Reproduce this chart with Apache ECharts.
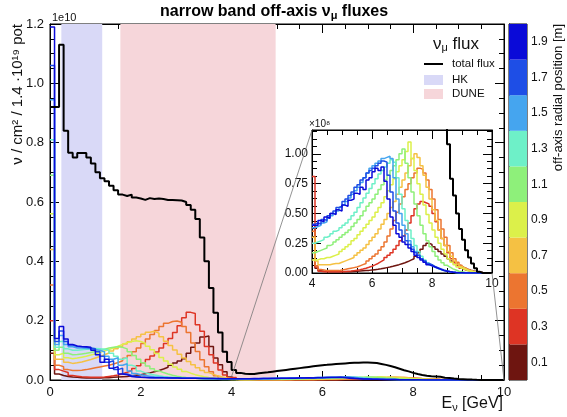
<!DOCTYPE html>
<html>
<head>
<meta charset="utf-8">
<title>narrow band off-axis numu fluxes</title>
<script src="https://cdn.jsdelivr.net/npm/echarts@6/dist/echarts.min.js"></script>
<style>
    html, body { margin: 0; padding: 0; background: #fff; }
    #main { width: 567px; height: 417px; }
</style>
</head>
<body>
<div id="main"></div>
<script>
// histograms: 100 bins of 0.1 GeV from 0 to 10 GeV, values in units of 1e8
var binWidth = 0.1;

var totalFlux = [
    92, 92, 113, 84, 76.6, 75, 76.5, 76.5, 75, 73,
    70, 68, 67, 65.5, 64, 62.5, 62, 62.5, 61.5, 61.2,
    60.7, 61.3, 61, 61.2, 61, 60.7, 60.7, 60.6, 60.5, 60,
    59, 57.4, 54.3, 48, 40, 31, 22.7, 16, 9.5, 6.1,
    3.4, 2.4, 2.1, 2.0, 2.05, 2.3, 2.45, 2.6, 2.8, 3.0,
    3.2, 3.4, 3.6, 3.8, 4.0, 4.2, 4.4, 4.6, 4.8, 5.0,
    5.1, 5.25, 5.4, 5.5, 5.6, 5.7, 5.8, 5.85, 5.9, 5.9,
    5.85, 5.7, 5.4, 5.1, 4.7, 4.3, 3.8, 3.3, 2.9, 2.4,
    2.0, 1.7, 1.45, 1.3, 1.22, 1.08, 0.79, 0.65, 0.5, 0.37,
    0.28, 0.19, 0.13, 0.08, 0.04, 0.01, 0, 0, 0, 0
];

var flux01 = [
    9, 2, 1.5, 1.2, 1, 0.9, 0.8, 0.7, 0.7, 0.7,
    0.7, 0.75, 0.8, 0.9, 1.0, 1.1, 1.2, 1.4, 1.6, 1.8,
    2.1, 2.4, 2.8, 3.2, 3.7, 4.3, 5, 5.7, 6.4, 7.2,
    9, 11, 12.5, 14.5, 14.8, 11.3, 7.4, 5.1, 2.8, 1.0,
    0.40, 0.04, 0.02, 0.015, 0.012, 0.01, 0.01, 0.01, 0.01, 0.01,
    0.01, 0.01, 0.01, 0.012, 0.014, 0.016, 0.018, 0.02, 0.022, 0.025,
    0.028, 0.031, 0.035, 0.04, 0.045, 0.05, 0.056, 0.063, 0.07, 0.078,
    0.086, 0.096, 0.108, 0.12, 0.14, 0.17, 0.20, 0.23, 0.25, 0.24,
    0.22, 0.20, 0.18, 0.16, 0.14, 0.12, 0.10, 0.085, 0.07, 0.055,
    0.042, 0.032, 0.024, 0.017, 0.012, 0.008, 0.005, 0.003, 0.001, 0
];

var flux03 = [
    20, 3.5, 3, 2.5, 1.5, 1.3, 1.1, 1.0, 0.9, 0.9,
    0.9, 1.0, 1.2, 1.4, 1.7, 2.1, 2.6, 3.2, 3.9, 4.8,
    5.8, 6.9, 8.1, 9.4, 10.8, 12.3, 14, 16, 18.3, 21,
    22.8, 22.4, 18.6, 16.4, 11.3, 8.5, 5.7, 3.4, 1.7, 0.8,
    0.81, 0.05, 0.015, 0.01, 0.01, 0.01, 0.01, 0.01, 0.01, 0.01,
    0.012, 0.014, 0.016, 0.02, 0.024, 0.028, 0.033, 0.04, 0.048, 0.057,
    0.068, 0.08, 0.095, 0.11, 0.13, 0.15, 0.17, 0.20, 0.23, 0.27,
    0.31, 0.36, 0.42, 0.48, 0.54, 0.58, 0.60, 0.59, 0.58, 0.56,
    0.50, 0.43, 0.36, 0.29, 0.23, 0.17, 0.12, 0.085, 0.06, 0.04,
    0.028, 0.02, 0.014, 0.009, 0.006, 0.004, 0.002, 0.001, 0, 0
];

var flux05 = [
    32, 5, 4.5, 3.5, 3.2, 3.2, 3.3, 3.5, 3.8, 4.1,
    4.4, 4.7, 5, 5.4, 5.9, 6.5, 7.3, 8.3, 9.5, 10.8,
    12.3, 13.8, 15.3, 16.7, 18, 19.1, 19.7, 19.9, 19.5, 18,
    16, 12.5, 9.6, 6.8, 4.5, 2.8, 1.4, 0.6, 0.3, 0.2,
    0.35, 0.06, 0.03, 0.025, 0.02, 0.02, 0.02, 0.02, 0.02, 0.025,
    0.03, 0.035, 0.04, 0.045, 0.05, 0.06, 0.07, 0.08, 0.10, 0.12,
    0.14, 0.16, 0.19, 0.22, 0.26, 0.31, 0.37, 0.44, 0.51, 0.58,
    0.64, 0.70, 0.75, 0.80, 0.84, 0.88, 0.87, 0.84, 0.78, 0.70,
    0.62, 0.53, 0.45, 0.37, 0.30, 0.23, 0.17, 0.12, 0.09, 0.065,
    0.045, 0.03, 0.02, 0.013, 0.008, 0.005, 0.003, 0.001, 0, 0
];

var flux07 = [
    44, 7, 7, 6, 5.6, 5.8, 6.1, 6.5, 6.9, 7.4,
    7.9, 8.5, 9.1, 9.8, 10.5, 11.3, 12.1, 12.9, 13.8, 14.6,
    15.4, 16.1, 16.4, 15.8, 14.6, 13.1, 11.6, 10.1, 8.7, 7.4,
    6.2, 5.1, 4.1, 3.2, 2.5, 1.9, 1.4, 1.0, 0.7, 0.45,
    0.30, 0.10, 0.07, 0.07, 0.07, 0.07, 0.075, 0.08, 0.08, 0.09,
    0.10, 0.11, 0.12, 0.13, 0.15, 0.17, 0.19, 0.21, 0.24, 0.27,
    0.30, 0.33, 0.37, 0.41, 0.45, 0.50, 0.55, 0.60, 0.66, 0.72,
    0.78, 0.84, 0.90, 0.96, 1.00, 0.97, 0.90, 0.82, 0.72, 0.62,
    0.53, 0.44, 0.36, 0.29, 0.23, 0.18, 0.14, 0.10, 0.075, 0.055,
    0.04, 0.028, 0.02, 0.013, 0.008, 0.005, 0.003, 0.001, 0, 0
];

var flux09 = [
    56, 8.5, 9, 7.5, 7.2, 7.4, 7.7, 8, 8.4, 8.8,
    9.3, 9.8, 10.3, 10.8, 11.4, 12, 12.6, 13, 13.2, 13,
    12.4, 11.4, 10.2, 8.9, 7.6, 6.4, 5.3, 4.4, 3.6, 2.9,
    2.3, 1.8, 1.4, 1.1, 0.85, 0.65, 0.5, 0.38, 0.28, 0.2,
    0.11, 0.11, 0.12, 0.12, 0.13, 0.13, 0.14, 0.15, 0.16, 0.18,
    0.20, 0.22, 0.24, 0.27, 0.29, 0.32, 0.35, 0.38, 0.41, 0.44,
    0.47, 0.51, 0.55, 0.59, 0.64, 0.69, 0.74, 0.79, 0.85, 0.90,
    0.95, 1.02, 1.10, 0.96, 0.86, 0.75, 0.66, 0.57, 0.49, 0.42,
    0.36, 0.30, 0.25, 0.20, 0.16, 0.12, 0.09, 0.07, 0.05, 0.04,
    0.03, 0.02, 0.015, 0.01, 0.006, 0.003, 0.001, 0, 0, 0
];

var flux11 = [
    69, 10, 11, 9, 8.5, 8.6, 8.8, 9, 9.3, 9.6,
    10, 10.4, 10.8, 11, 11.2, 11, 10.5, 9.5, 8.3, 7,
    5.8, 4.7, 3.8, 3.1, 2.5, 2.0, 1.6, 1.3, 1.05, 0.85,
    0.7, 0.58, 0.48, 0.4, 0.33, 0.28, 0.24, 0.21, 0.19, 0.18,
    0.17, 0.18, 0.19, 0.20, 0.21, 0.23, 0.24, 0.26, 0.28, 0.30,
    0.32, 0.34, 0.36, 0.39, 0.42, 0.45, 0.48, 0.52, 0.56, 0.59,
    0.62, 0.66, 0.70, 0.74, 0.78, 0.82, 0.86, 0.90, 0.95, 1.00,
    1.04, 0.92, 0.80, 0.68, 0.58, 0.48, 0.40, 0.33, 0.27, 0.22,
    0.18, 0.14, 0.11, 0.085, 0.065, 0.05, 0.035, 0.025, 0.015, 0.01,
    0.006, 0.004, 0.002, 0.001, 0, 0, 0, 0, 0, 0
];

var flux13 = [
    81, 11, 13, 10.5, 10, 10, 10.2, 10.4, 10.5, 10.6,
    10.5, 10.4, 10, 9, 8, 7, 7.5, 5, 4.5, 3,
    2.4, 2, 1.7, 1.4, 1.2, 1.05, 0.95, 0.85, 0.75, 0.68,
    0.6, 0.55, 0.5, 0.46, 0.42, 0.38, 0.35, 0.32, 0.3, 0.28,
    0.25, 0.26, 0.27, 0.28, 0.30, 0.31, 0.33, 0.35, 0.36, 0.38,
    0.40, 0.42, 0.45, 0.48, 0.51, 0.55, 0.59, 0.63, 0.67, 0.71,
    0.75, 0.79, 0.83, 0.86, 0.89, 0.92, 0.95, 0.93, 0.80, 0.66,
    0.54, 0.44, 0.36, 0.29, 0.23, 0.18, 0.14, 0.11, 0.085, 0.065,
    0.05, 0.038, 0.028, 0.02, 0.014, 0.01, 0.007, 0.004, 0.002, 0.001,
    0, 0, 0, 0, 0, 0, 0, 0, 0, 0
];

var flux15 = [
    94.5, 12, 15, 12, 11.2, 10.8, 10.8, 10.6, 10.5, 10.3,
    10, 9.5, 8, 7, 7.5, 5, 5.5, 3, 2.2, 1.8,
    1.5, 1.3, 1.1, 1.0, 0.9, 0.85, 0.8, 0.75, 0.7, 0.67,
    0.64, 0.61, 0.58, 0.56, 0.54, 0.51, 0.49, 0.47, 0.45, 0.43,
    0.38, 0.39, 0.40, 0.42, 0.43, 0.46, 0.48, 0.50, 0.52, 0.55,
    0.57, 0.60, 0.63, 0.66, 0.69, 0.72, 0.76, 0.80, 0.84, 0.88,
    0.90, 0.92, 0.94, 0.96, 0.97, 0.98, 0.96, 0.80, 0.62, 0.50,
    0.40, 0.33, 0.27, 0.22, 0.18, 0.15, 0.12, 0.10, 0.08, 0.065,
    0.05, 0.04, 0.03, 0.022, 0.016, 0.011, 0.008, 0.005, 0.003, 0.002,
    0.001, 0, 0, 0, 0, 0, 0, 0, 0, 0
];

var flux17 = [
    106, 13, 16.5, 13, 11.8, 11.3, 11.2, 11, 10.8, 10.5,
    9.5, 8, 6, 6.5, 3.5, 4, 2, 1.5, 1.2, 1.0,
    0.9, 0.85, 0.8, 0.78, 0.75, 0.72, 0.7, 0.67, 0.64, 0.62,
    0.6, 0.58, 0.56, 0.54, 0.52, 0.5, 0.48, 0.46, 0.45, 0.43,
    0.41, 0.42, 0.41, 0.45, 0.44, 0.48, 0.50, 0.52, 0.55, 0.56,
    0.60, 0.62, 0.65, 0.68, 0.72, 0.74, 0.78, 0.80, 0.84, 0.86,
    0.88, 0.90, 0.92, 0.94, 0.93, 0.82, 0.68, 0.52, 0.42, 0.36,
    0.31, 0.27, 0.24, 0.20, 0.17, 0.15, 0.12, 0.10, 0.08, 0.07,
    0.055, 0.045, 0.035, 0.025, 0.018, 0.012, 0.008, 0.005, 0.003, 0.002,
    0.001, 0, 0, 0, 0, 0, 0, 0, 0, 0
];

var flux19 = [
    119, 14, 18, 13.8, 12, 11.5, 11.3, 11.2, 11, 10,
    8.5, 6, 7, 4, 4.5, 2, 1.8, 1.2, 1.0, 0.9,
    0.85, 0.8, 0.78, 0.75, 0.72, 0.7, 0.68, 0.65, 0.62, 0.6,
    0.58, 0.56, 0.54, 0.52, 0.5, 0.48, 0.46, 0.45, 0.43, 0.42,
    0.40, 0.40, 0.44, 0.43, 0.47, 0.46, 0.50, 0.49, 0.53, 0.52,
    0.57, 0.56, 0.61, 0.62, 0.67, 0.66, 0.72, 0.70, 0.78, 0.80,
    0.85, 0.88, 0.86, 0.89, 0.77, 0.62, 0.47, 0.40, 0.33, 0.30,
    0.26, 0.24, 0.21, 0.18, 0.15, 0.13, 0.11, 0.09, 0.07, 0.06,
    0.05, 0.04, 0.03, 0.02, 0.015, 0.01, 0.007, 0.005, 0.003, 0.002,
    0.001, 0, 0, 0, 0, 0, 0, 0, 0, 0
];

var radialFlux = [flux01, flux03, flux05, flux07, flux09, flux11, flux13, flux15, flux17, flux19];
var radialLabels = ['0.1', '0.3', '0.5', '0.7', '0.9', '1.1', '1.3', '1.5', '1.7', '1.9'];
var radialColors = ['#6e1510', '#de3424', '#ec7530', '#f5c143', '#dcf04a',
                    '#8ef07a', '#6ef0c8', '#45a5ef', '#1e4ee6', '#0a0ad8'];

// detector energy windows [GeV]
var hkRange = [0.25, 1.15];
var duneRange = [1.55, 4.97];

// zoomed window shown in the inset (x in GeV, y in 1e8)
var insetRangeX = [4, 10];
var insetRangeY = [0, 1.2];

var fontFam = 'Liberation Sans, Arial, Helvetica, sans-serif';
var textColor = '#111';

function histPoints(values, firstBin, scale) {
    var pts = [];
    for (var i = firstBin; i < values.length; i++) {
        pts.push([+(i * binWidth).toFixed(2), values[i] * scale]);
    }
    // close the last bin
    pts.push([+(values.length * binWidth).toFixed(2), values[values.length - 1] * scale]);
    return pts;
}

function histSeries(values, color, axisIdx, firstBin, scale, width, z) {
    return {
        type: 'line',
        xAxisIndex: axisIdx,
        yAxisIndex: axisIdx,
        step: 'end',
        symbol: 'none',
        silent: true,
        data: histPoints(values, firstBin, scale),
        lineStyle: {color: color, width: width},
        itemStyle: {color: color},
        z: z
    };
}

function bandSeries(name, range, color) {
    return {
        name: name,
        type: 'line',
        xAxisIndex: 0,
        yAxisIndex: 0,
        data: [],
        color: color,
        itemStyle: {color: color},
        z: 1,
        markArea: {
            silent: true,
            itemStyle: {color: color, opacity: 1},
            data: [[{xAxis: range[0]}, {xAxis: range[1]}]]
        }
    };
}

// ROOT like frame axis: ticks pointing inwards
function frameAxis(opts, showLabel, fontSize, margin, digits) {
    var axis = {
        type: 'value',
        axisLine: {show: true, onZero: false, lineStyle: {color: '#000', width: 1}},
        axisTick: {show: true, inside: true, length: 9, lineStyle: {color: '#000', width: 1}},
        minorTick: {show: true, splitNumber: 4, length: 5, lineStyle: {color: '#000', width: 1}},
        splitLine: {show: false},
        axisLabel: {
            show: showLabel, fontSize: fontSize, color: textColor, fontFamily: fontFam, margin: margin,
            showMaxLabel: opts.hideMax ? false : null,
            formatter: function (v) {
                return digits === undefined ? String(v) : v.toFixed(digits);
            }
        }
    };
    for (var k in opts) {
        if (k !== 'hideMax') axis[k] = opts[k];
    }
    return axis;
}

function initFluxChart() {
    var chart = echarts.init(document.getElementById('main'), null, {renderer: 'canvas'});

    var series = [];
    series.push(bandSeries('HK', hkRange, '#d9d9f7'));
    series.push(bandSeries('DUNE', duneRange, '#f6d6da'));

    // main plot, values shown in units of 1e10
    for (var k = 0; k < radialFlux.length; k++) {
        series.push(histSeries(radialFlux[k], radialColors[k], 0, 0, 0.01, 1.5, 3));
    }
    var totalMain = histSeries(totalFlux, '#000', 0, 0, 0.01, 2, 5);
    totalMain.name = 'total flux';
    series.push(totalMain);

    // inset, 4 - 10 GeV in units of 1e8
    var firstInsetBin = Math.round(insetRangeX[0] / binWidth);
    for (k = 0; k < radialFlux.length; k++) {
        series.push(histSeries(radialFlux[k], radialColors[k], 2, firstInsetBin, 1, 1.5, 3));
    }
    series.push(histSeries(totalFlux, '#000', 2, firstInsetBin, 1, 2, 5));

    // colour scale of the off-axis position
    series.push({
        type: 'bar',
        xAxisIndex: 4,
        yAxisIndex: 4,
        silent: true,
        barWidth: '100%',
        barCategoryGap: '0%',
        data: radialColors.map(function (c) {
            return {value: 1, itemStyle: {color: c}};
        })
    });

    var option = {
        animation: false,
        backgroundColor: '#fff',
        textStyle: {fontFamily: fontFam},
        title: {
            text: 'narrow band off-axis ν{sub|μ} fluxes',
            left: 160,
            top: 3,
            padding: 0,
            textStyle: {
                fontSize: 16,
                fontWeight: 'bold',
                color: '#000',
                fontFamily: fontFam,
                rich: {sub: {fontSize: 11, fontWeight: 'bold', color: '#000', padding: [7, 0, 0, 0]}}
            }
        },
        grid: [
            {left: 50, top: 24, width: 454, height: 356, show: true, borderColor: '#000', borderWidth: 1},
            {left: 312, top: 130, width: 180, height: 143, show: true, backgroundColor: '#fff', borderColor: '#000', borderWidth: 1},
            {left: 509, top: 24, width: 18, height: 356, show: true, borderColor: '#000', borderWidth: 1}
        ],
        legend: [
            {
                data: [{name: 'total flux', icon: 'rect'}],
                left: 424, top: 58, padding: 0,
                itemWidth: 19, itemHeight: 2,
                selectedMode: false,
                textStyle: {fontSize: 11.5, color: textColor, fontFamily: fontFam, padding: [0, 0, 0, 4]}
            },
            {
                data: [{name: 'HK', icon: 'rect'}, {name: 'DUNE', icon: 'rect'}],
                orient: 'vertical',
                left: 424, top: 74, padding: 0,
                itemWidth: 19, itemHeight: 10, itemGap: 2,
                selectedMode: false,
                textStyle: {fontSize: 11.5, color: textColor, fontFamily: fontFam, padding: [0, 0, 0, 4]}
            }
        ],
        xAxis: [
            frameAxis({gridIndex: 0, position: 'bottom', min: 0, max: 10, interval: 2}, true, 13, 6),
            frameAxis({gridIndex: 0, position: 'top', min: 0, max: 10, interval: 2}, false, 13, 6),
            frameAxis({gridIndex: 1, position: 'bottom', min: insetRangeX[0], max: insetRangeX[1], interval: 2}, true, 12, 5),
            frameAxis({gridIndex: 1, position: 'top', min: insetRangeX[0], max: insetRangeX[1], interval: 2}, false, 12, 5),
            {type: 'value', gridIndex: 2, min: 0, max: 1, show: false}
        ],
        yAxis: [
            frameAxis({gridIndex: 0, position: 'left', min: 0, max: 1.2, interval: 0.2}, true, 13, 6, 1),
            frameAxis({gridIndex: 0, position: 'right', min: 0, max: 1.2, interval: 0.2}, false, 13, 6, 1),
            frameAxis({gridIndex: 1, position: 'left', min: insetRangeY[0], max: insetRangeY[1], interval: 0.25, hideMax: true}, true, 12, 4, 2),
            frameAxis({gridIndex: 1, position: 'right', min: insetRangeY[0], max: insetRangeY[1], interval: 0.25}, false, 12, 4, 2),
            {
                type: 'category',
                gridIndex: 2,
                position: 'right',
                data: radialLabels,
                axisLine: {lineStyle: {color: '#000'}},
                axisTick: {inside: true, length: 4, lineStyle: {color: '#000'}},
                axisLabel: {fontSize: 12, color: textColor, fontFamily: fontFam, margin: 4}
            }
        ],
        series: series,
        graphic: [
            {
                id: 'exp10', type: 'text', x: 52, y: 18,
                style: {text: '1e10', fontSize: 11, fontFamily: fontFam, fill: textColor, align: 'left', verticalAlign: 'middle'}
            },
            {
                id: 'ytitle', type: 'text', x: 18, y: 24, rotation: Math.PI / 2,
                style: {text: 'ν / cm² / 1.4 ·10¹⁹ pot', fontSize: 15, fontFamily: fontFam, fill: textColor, align: 'right', verticalAlign: 'middle'}
            },
            {
                id: 'xtitle', type: 'text', x: 503, y: 404,
                style: {text: 'E{sub|ν} [GeV]', fontSize: 16, fontFamily: fontFam, fill: textColor, align: 'right', verticalAlign: 'middle',
                        rich: {sub: {fontSize: 11, fontFamily: fontFam, fill: textColor, padding: [8, 0, 0, 0]}}}
            },
            {
                id: 'legtitle', type: 'text', x: 433, y: 44,
                style: {text: 'ν{sub|μ} flux', fontSize: 17, fontFamily: fontFam, fill: textColor, align: 'left', verticalAlign: 'middle',
                        rich: {sub: {fontSize: 11, fontFamily: fontFam, fill: textColor, padding: [8, 0, 0, 0]}}}
            },
            {
                id: 'exp8', type: 'text', x: 309, y: 124,
                style: {text: '×10⁸', fontSize: 10, fontFamily: fontFam, fill: textColor, align: 'left', verticalAlign: 'middle'}
            },
            {
                id: 'ztitle', type: 'text', x: 558, y: 24, rotation: Math.PI / 2,
                style: {text: 'off-axis radial position [m]', fontSize: 13, fontFamily: fontFam, fill: textColor, align: 'right', verticalAlign: 'middle'}
            }
        ]
    };
    chart.setOption(option);

    // lines joining the zoomed window of the main plot to the inset
    var mainFinder = {xAxisIndex: 0, yAxisIndex: 0};
    var insetFinder = {xAxisIndex: 2, yAxisIndex: 2};
    var a0 = chart.convertToPixel(mainFinder, [insetRangeX[0], insetRangeY[1] / 100]);
    var a1 = chart.convertToPixel(insetFinder, [insetRangeX[0], insetRangeY[1]]);
    var b0 = chart.convertToPixel(mainFinder, [insetRangeX[1], insetRangeY[0]]);
    var b1 = chart.convertToPixel(insetFinder, [insetRangeX[1], insetRangeY[0]]);
    chart.setOption({
        graphic: [
            {id: 'zoomLeft', type: 'line', z: 10, silent: true,
             shape: {x1: a0[0], y1: a0[1], x2: a1[0], y2: a1[1]}, style: {stroke: '#777', lineWidth: 0.8}},
            {id: 'zoomRight', type: 'line', z: 10, silent: true,
             shape: {x1: b0[0], y1: b0[1], x2: b1[0], y2: b1[1]}, style: {stroke: '#777', lineWidth: 0.8}}
        ]
    });
}

initFluxChart();
</script>
</body>
</html>
